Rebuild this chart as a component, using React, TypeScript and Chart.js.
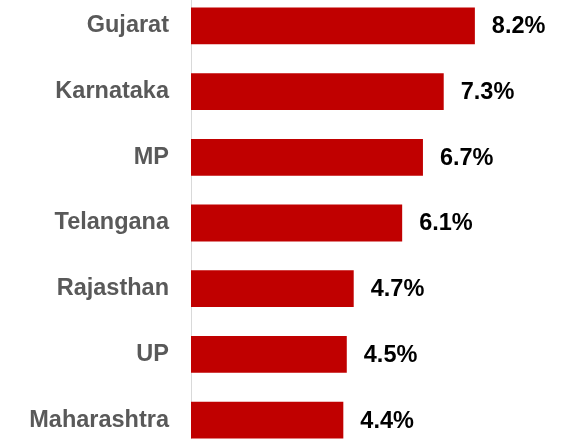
import React, { useEffect, useRef } from "react";
import { Chart, registerables } from "chart.js";

Chart.register(...registerables);

const categories = ["Gujarat", "Karnataka", "MP", "Telangana", "Rajasthan", "UP", "Maharashtra"];
const values = [8.2, 7.3, 6.7, 6.1, 4.7, 4.5, 4.4];
const valueLabels = ["8.2%", "7.3%", "6.7%", "6.1%", "4.7%", "4.5%", "4.4%"];

const FONT = "'Liberation Sans', Arial, sans-serif";

const valueLabelPlugin = {
  id: "valueLabels",
  afterDatasetsDraw(chart: any) {
    const ctx = chart.ctx;
    const meta = chart.getDatasetMeta(0);
    ctx.save();
    ctx.font = `bold 23.5px ${FONT}`;
    ctx.fillStyle = "#000000";
    ctx.textAlign = "left";
    ctx.textBaseline = "middle";
    meta.data.forEach((bar: any, i: number) => {
      ctx.fillText(valueLabels[i], bar.x + 17, bar.y + 1);
    });
    ctx.restore();
  },
};

export default function App() {
  const ref = useRef<HTMLCanvasElement | null>(null);
  useEffect(() => {
    if (!ref.current) return;
    const chart = new Chart(ref.current, {
      type: "bar",
      data: {
        labels: categories,
        datasets: [
          {
            data: values,
            backgroundColor: "#C00000",
            borderWidth: 0,
            barPercentage: 0.56,
            categoryPercentage: 1,
          },
        ],
      },
      options: {
        indexAxis: "y",
        responsive: false,
        animation: false,
        layout: { padding: 0 },
        plugins: {
          legend: { display: false },
          tooltip: { enabled: false },
        },
        scales: {
          x: {
            display: false,
            min: 0,
            max: 11.15,
          },
          y: {
            afterFit(scale: any) {
              scale.width = 191;
              scale.paddingTop = 0;
              scale.paddingBottom = 0;
            },
            grid: { display: false, drawTicks: false },
            border: { display: true, color: "#D9D9D9", width: 1 },
            ticks: {
              padding: 22,
              color: "#595959",
              font: { family: FONT, size: 23.5, weight: "bold" },
            },
          },
        },
      },
      plugins: [valueLabelPlugin],
    });
    return () => chart.destroy();
  }, []);
  return (
    <div style={{ position: "fixed", left: 0, top: 0, width: 577, height: 439, overflow: "hidden", background: "#fff" }}>
      <canvas ref={ref} width={577} height={460} style={{ position: "absolute", left: 0, top: -7, width: 577, height: 460 }} />
    </div>
  );
}
